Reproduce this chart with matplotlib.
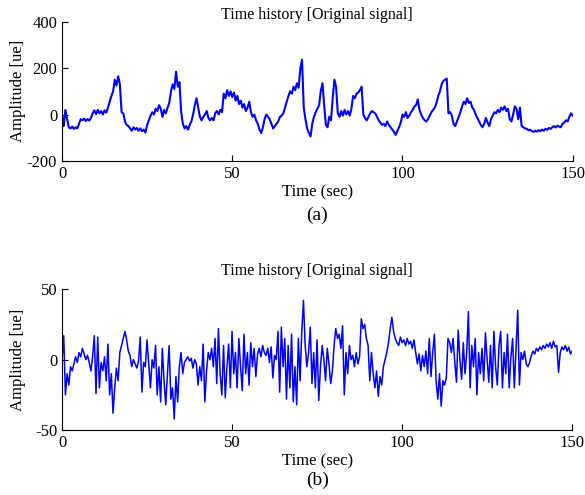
import numpy as np
import matplotlib.pyplot as plt

plt.rcParams['font.family'] = ['Liberation Serif', 'DejaVu Serif']
plt.rcParams['axes.unicode_minus'] = False

# sampling of both records (sec)
dt = 0.5

# (a) original signal, every 0.5 s
sig_a = [
    0, -50, 20, -20, -55, -60, -52, -62, -55, -60, -40, -20, -25, -18, -28, -20, -26, -15, 5, 18,
    2, 20, 5, 15, 0, 18, 8, 30, 55, 80, 100, 150, 125, 165, 130, 10, 5, -30, -45, -50,
    -60, -70, -55, -65, -58, -70, -60, -72, -65, -78, -45, -25, -5, 10, 0, 25, 15, 40, 25, -10,
    20, 5, 30, 50, 100, 130, 110, 185, 120, 140, 10, -40, -60, -50, -65, -45, -30, 0, 40, 70,
    30, -10, -25, -10, 0, 15, -15, -25, -15, -25, 5, 15, 0, 20, 10, 90, 70, 105, 80, 100,
    75, 95, 60, 80, 45, 60, 30, 45, 15, 30, 55, 10, -10, 0, -25, -40, -65, -80, -55, -20,
    0, -10, -20, -40, -60, -50, -40, -30, -10, -5, 5, 30, 55, 80, 100, 90, 120, 105, 135, 115,
    200, 236, 30, -20, -60, -80, -95, -40, -10, 10, 25, 40, 100, 135, 40, -45, -55, -10, -25, 70,
    150, 120, 5, -10, 15, -5, 20, 0, 15, -5, 25, 80, 70, 90, 95, 105, 120, 0, -15, -25,
    -10, 5, 15, 10, 5, -10, -25, -35, -45, -40, -50, -30, -45, -55, -65, -75, -88, -70, -55, -35,
    0, -10, 10, -15, -5, 10, 20, 35, 40, 65, 20, 0, -15, -25, -30, -20, -5, 10, 20, 30,
    50, 80, 100, 130, 145, 150, 155, 5, 10, -5, -40, -50, -30, -10, 10, 35, 55, 45, 70, 50,
    55, 30, 20, 0, -15, -30, -45, -55, -40, -15, -35, -50, -20, -5, 10, 5, 20, 10, 30, 20,
    35, 15, 25, -20, -30, 0, 35, 25, -20, 30, -50, -55, -60, -62, -68, -65, -72, -75, -70, -74,
    -68, -72, -65, -70, -62, -66, -58, -62, -55, -50, -56, -48, -52, -55, -40, -35, -25, -30, -10, 5, -5,
]

# (b) second record, same sampling
sig_b = [
    0, 17, -25, -10, -18, -5, -8, -3, 2, -2, 5, 2, 8, 4, 0, 3, -2, -8, 2, 17,
    -24, 16, -20, -2, -8, 2, -15, 11, -25, -10, -38, -20, -6, -15, 5, 10, 15, 20, 14, 6,
    3, -5, 0, -3, -6, -1, 16, -23, -2, -5, 14, -3, -20, 0, -6, 10, -25, -5, -30, 8,
    -15, -32, -10, 10, -28, -20, -42, -12, -30, -5, 5, -10, -2, 0, 2, -1, 1, -6, 0, -3,
    -18, -5, -15, 11, -30, -8, 5, 0, 8, -5, 15, -17, 22, -10, -25, 10, -27, -5, 11, -20,
    20, -10, 5, -20, 15, -5, -22, 18, -10, 5, -18, 12, -5, 8, -12, 4, 8, 2, 10, 5,
    3, 8, -2, 9, -13, 3, 0, 20, -23, 23, -5, 15, -28, 10, -20, 18, -30, -5, -32, 15,
    -15, 20, 42, 10, -5, 5, 23, -17, 5, -20, 14, -29, -5, 10, 0, -15, 8, -3, -17, -8,
    10, 22, 15, 18, 8, 24, -25, 5, -10, 10, 0, 3, -5, 5, -3, 2, 29, 22, 25, 15,
    10, -15, 5, -10, -20, -8, -26, -12, -18, -5, 0, 5, 12, 22, 30, 20, 15, 12, 10, 16,
    12, 14, 10, 15, 11, 13, 8, 14, 5, -3, 4, -8, 3, -5, 6, -10, 15, -12, 5, 18,
    -15, -28, -10, -33, -15, -18, -13, 15, 12, 5, 15, -2, -16, 21, 0, -14, 12, -10, 5, 34,
    -20, 10, -5, 15, -25, 5, -10, 8, -15, 19, 0, -16, 10, -20, 20, -5, -18, 10, 20, -20,
    5, -10, 18, -20, 2, 15, -20, 8, 35, -18, 5, 0, 6, -3, -5, -2, 3, 6, 4, 8,
    6, 9, 7, 10, 8, 11, 9, 12, 8, 13, 9, 10, -9, 5, 9, 7, 10, 6, 9, 4, 6,
]

t_a = np.arange(len(sig_a)) * dt
t_b = np.arange(len(sig_b)) * dt

fig = plt.figure(figsize=(5.85, 4.95), dpi=100)
ax1 = fig.add_axes([0.106, 0.675, 0.873, 0.281])
ax2 = fig.add_axes([0.106, 0.131, 0.872, 0.285])


def style(ax, ylim, yticks, tag, title_y, tag_y):
    ax.set_xlim(0, 150)
    ax.set_ylim(*ylim)
    ax.set_xticks([0, 50, 100, 150])
    ax.set_yticks(yticks)
    ax.spines['top'].set_visible(False)
    ax.spines['right'].set_visible(False)
    ax.tick_params(direction='in', length=4, width=0.8, labelsize=12)
    ax.text(0.5, title_y, 'Time history [Original signal]', transform=ax.transAxes,
            ha='center', va='center', fontsize=11.5)
    ax.set_xlabel('Time (sec)', fontsize=12, labelpad=2)
    ax.set_ylabel('Amplitude [ue]', fontsize=12, va='center')
    ax.yaxis.set_label_coords(-0.086, 0.5)
    ax.text(0.5, tag_y, tag, transform=ax.transAxes, ha='center', va='center', fontsize=14)


ax1.plot(t_a, sig_a, color='#0000ff', lw=1.5)
style(ax1, (-200, 400), [-200, 0, 200, 400], '(a)', 1.05, -0.395)

ax2.plot(t_b, sig_b, color='#0000ff', lw=1.1)
style(ax2, (-50, 50), [-50, 0, 50], '(b)', 1.128, -0.355)

fig.savefig('out.png', dpi=100)
